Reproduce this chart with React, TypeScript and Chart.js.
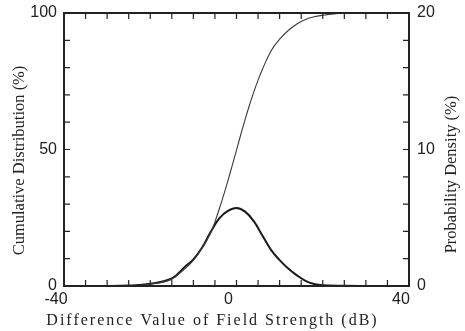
import React, { useEffect, useRef } from 'react';
import { Chart, registerables } from 'chart.js';

Chart.register(...registerables);

// Difference value of field strength (dB) for the cumulative curve
const cdfX = [-40, -30, -25, -20, -15, -12, -10, -8, -6, -5, -4, -3, -2, -1, 0, 1, 2, 3, 4, 5, 6, 8, 10, 12, 14, 16, 18, 20, 22, 25, 30, 40];
// Cumulative distribution (%)
const cdfY = [0, 0, 0.1, 0.7, 2.6, 6.3, 9.4, 13.8, 19.4, 23.5, 28.2, 33.2, 38.5, 44.1, 49.8, 55.5, 61.0, 66.2, 71.0, 75.4, 79.3, 86.1, 90.4, 93.6, 96.0, 97.6, 98.6, 99.2, 99.6, 99.9, 100, 100];

// Difference value of field strength (dB) for the density curve
const pdfX = [-40, -30, -25, -20, -15, -12, -10, -8, -6, -4, -2, 0, 2, 4, 6, 8, 10, 12, 14, 16, 18, 20, 25, 30, 40];
// Probability density (%)
const pdfY = [0, 0, 0.03, 0.17, 0.55, 1.4, 1.95, 2.8, 3.95, 4.95, 5.5, 5.72, 5.45, 4.75, 3.7, 2.65, 1.9, 1.28, 0.78, 0.38, 0.15, 0.05, 0.01, 0, 0];

const xLabels = [-40, 0, 40];
const leftLabels = [0, 50, 100];
const rightLabels = [0, 10, 20];

const xTitle = 'Difference Value of Field Strength (dB)';
const leftTitle = 'Cumulative Distribution (%)';
const rightTitle = 'Probability Density (%)';

const INK = '#222';
const TICK_FONT = { family: '"Liberation Sans", Arial, sans-serif', size: 16 };

const noPad = (s: any) => {
  s.paddingTop = 0;
  s.paddingBottom = 0;
  s.paddingLeft = 0;
  s.paddingRight = 0;
};

const framePlugin = {
  id: 'frameAndTitles',
  afterDraw(chart: any) {
    const { ctx, chartArea: a, scales } = chart;
    ctx.save();
    ctx.strokeStyle = INK;
    ctx.lineWidth = 1.2;
    const tl = 6;
    ctx.beginPath();
    scales.x.ticks.forEach((t: any) => {
      const px = scales.x.getPixelForValue(t.value);
      ctx.moveTo(px, a.bottom);
      ctx.lineTo(px, a.bottom - tl);
      ctx.moveTo(px, a.top);
      ctx.lineTo(px, a.top + tl);
    });
    scales.y.ticks.forEach((t: any) => {
      const py = scales.y.getPixelForValue(t.value);
      ctx.moveTo(a.left, py);
      ctx.lineTo(a.left + tl, py);
    });
    scales.y1.ticks.forEach((t: any) => {
      const py = scales.y1.getPixelForValue(t.value);
      ctx.moveTo(a.right, py);
      ctx.lineTo(a.right - tl, py);
    });
    ctx.stroke();
    ctx.lineWidth = 2;
    ctx.strokeRect(a.left, a.top, a.right - a.left, a.bottom - a.top);

    ctx.fillStyle = INK;
    ctx.textAlign = 'center';
    ctx.textBaseline = 'middle';
    ctx.font = '16px "Liberation Serif", "Times New Roman", serif';
    (ctx as any).letterSpacing = '2px';
    ctx.fillText(xTitle, (a.left + a.right) / 2 - 24, a.bottom + 35);

    (ctx as any).letterSpacing = '0px';
    ctx.font = '16.5px "Liberation Serif", "Times New Roman", serif';
    ctx.save();
    ctx.translate(20, (a.top + a.bottom) / 2 + 11);
    ctx.rotate(-Math.PI / 2);
    ctx.fillText(leftTitle, 0, 0);
    ctx.restore();

    ctx.save();
    ctx.translate(a.right + 43, (a.top + a.bottom) / 2 + 25);
    ctx.rotate(-Math.PI / 2);
    ctx.fillText(rightTitle, 0, 0);
    ctx.restore();
    ctx.restore();
  },
};

export default function App() {
  const canvasRef = useRef<HTMLCanvasElement | null>(null);

  useEffect(() => {
    const canvas = canvasRef.current;
    if (!canvas) return;
    const chart = new Chart(canvas, {
      type: 'line',
      data: {
        datasets: [
          {
            label: 'Cumulative Distribution',
            data: cdfX.map((x, i) => ({ x, y: cdfY[i] })),
            yAxisID: 'y',
            borderColor: '#3a3a3a',
            borderWidth: 1.1,
            pointRadius: 0,
            fill: false,
            tension: 0.4,
          },
          {
            label: 'Probability Density',
            data: pdfX.map((x, i) => ({ x, y: pdfY[i] })),
            yAxisID: 'y1',
            borderColor: '#1a1a1a',
            borderWidth: 2,
            pointRadius: 0,
            fill: false,
            tension: 0.4,
          },
        ],
      },
      options: {
        responsive: false,
        animation: false,
        layout: { padding: { top: 13, left: 0, right: 0, bottom: 0 } },
        plugins: {
          legend: { display: false },
          tooltip: { enabled: false },
        },
        scales: {
          x: {
            type: 'linear',
            min: -40,
            max: 40,
            grid: { display: false, drawTicks: false },
            border: { display: false },
            ticks: {
              stepSize: 5,
              autoSkip: false,
              maxRotation: 0,
              padding: 4,
              labelOffset: -8,
              color: INK,
              font: TICK_FONT,
              callback: (v: any) => (xLabels.includes(Number(v)) ? String(v) : ''),
            },
            afterFit: (s: any) => { s.height = 45; noPad(s); },
          },
          y: {
            type: 'linear',
            position: 'left',
            min: 0,
            max: 100,
            grid: { display: false, drawTicks: false },
            border: { display: false },
            ticks: {
              stepSize: 10,
              autoSkip: false,
              padding: 7,
              color: INK,
              font: TICK_FONT,
              callback: (v: any) => (leftLabels.includes(Number(v)) ? String(v) : ''),
            },
            afterFit: (s: any) => { s.width = 64; noPad(s); },
          },
          y1: {
            type: 'linear',
            position: 'right',
            min: 0,
            max: 20,
            grid: { display: false, drawTicks: false },
            border: { display: false },
            ticks: {
              stepSize: 2,
              autoSkip: false,
              padding: 8,
              color: INK,
              font: TICK_FONT,
              callback: (v: any) => (rightLabels.includes(Number(v)) ? String(v) : ''),
            },
            afterFit: (s: any) => { s.width = 56; noPad(s); },
          },
        },
      } as any,
      plugins: [framePlugin],
    });
    return () => chart.destroy();
  }, []);

  return (
    <div style={{ position: 'fixed', left: 0, top: 0, width: 465, height: 331, background: '#fff' }}>
      <canvas ref={canvasRef} width={465} height={331} style={{ display: 'block' }} />
    </div>
  );
}
